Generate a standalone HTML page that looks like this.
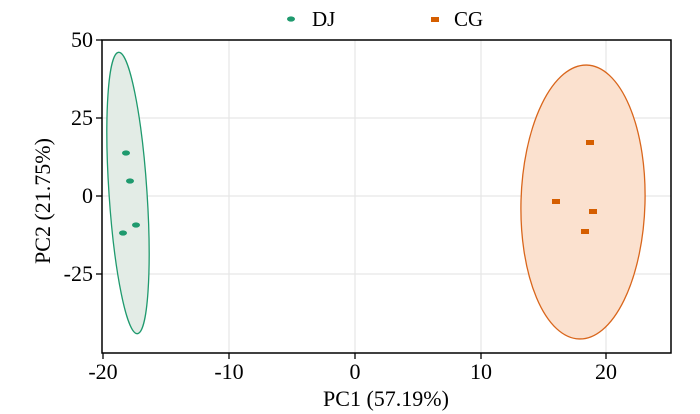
<!DOCTYPE html>
<html><head><style>body{margin:0;background:#fff}svg{display:block}text{font-family:"Liberation Serif",serif;fill:#000}</style></head>
<body>
<svg width="700" height="414" viewBox="0 0 700 414">
<g stroke="#e6e6e6" stroke-width="1.2">
<line x1="229" y1="40" x2="229" y2="353"/><line x1="355" y1="40" x2="355" y2="353"/><line x1="481" y1="40" x2="481" y2="353"/><line x1="606" y1="40" x2="606" y2="353"/>
<line x1="102" y1="118" x2="671" y2="118"/><line x1="102" y1="196" x2="671" y2="196"/><line x1="102" y1="274" x2="671" y2="274"/>
</g>
<ellipse cx="128" cy="193" rx="19" ry="141" transform="rotate(-3.8 128 193)" fill="#e3ece6" stroke="#1f9a6e" stroke-width="1.3"/>
<ellipse cx="583" cy="202" rx="62" ry="137" transform="rotate(1.6 583 202)" fill="#fbe1cf" stroke="#d9661c" stroke-width="1.3"/>
<g fill="#1f9a6e">
<ellipse cx="126" cy="153" rx="4" ry="2.6"/><ellipse cx="130" cy="181" rx="4" ry="2.6"/><ellipse cx="136" cy="225" rx="4" ry="2.6"/><ellipse cx="123" cy="233" rx="4" ry="2.6"/>
</g>
<g fill="#d55e00">
<rect x="586" y="140" width="8" height="5"/><rect x="552" y="199" width="8" height="5"/><rect x="589" y="209" width="8" height="5"/><rect x="581" y="229" width="8" height="5"/>
</g>
<rect x="102" y="40" width="569" height="313" fill="none" stroke="#000" stroke-width="1.5"/>
<g stroke="#000" stroke-width="1.3">
<line x1="96" y1="40" x2="102" y2="40"/><line x1="96" y1="118" x2="102" y2="118"/><line x1="96" y1="196" x2="102" y2="196"/><line x1="96" y1="274" x2="102" y2="274"/>
<line x1="103" y1="353" x2="103" y2="359"/><line x1="229" y1="353" x2="229" y2="359"/><line x1="355" y1="353" x2="355" y2="359"/><line x1="481" y1="353" x2="481" y2="359"/><line x1="606" y1="353" x2="606" y2="359"/>
</g>
<g font-size="22" text-anchor="end">
<text x="93" y="47">50</text><text x="93" y="125">25</text><text x="93" y="203">0</text><text x="93" y="281">-25</text>
</g>
<g font-size="22" text-anchor="middle">
<text x="103" y="379">-20</text><text x="229" y="379">-10</text><text x="355" y="379">0</text><text x="481" y="379">10</text><text x="606" y="379">20</text>
<text x="386" y="406">PC1 (57.19%)</text>
<text transform="translate(50 201) rotate(-90)">PC2 (21.75%)</text>
</g>
<ellipse cx="291" cy="19" rx="4" ry="2.6" fill="#1f9a6e"/>
<text x="312" y="26" font-size="21">DJ</text>
<rect x="431" y="17" width="8" height="5" fill="#d55e00"/>
<text x="454" y="26" font-size="21">CG</text>
</svg>
</body></html>
